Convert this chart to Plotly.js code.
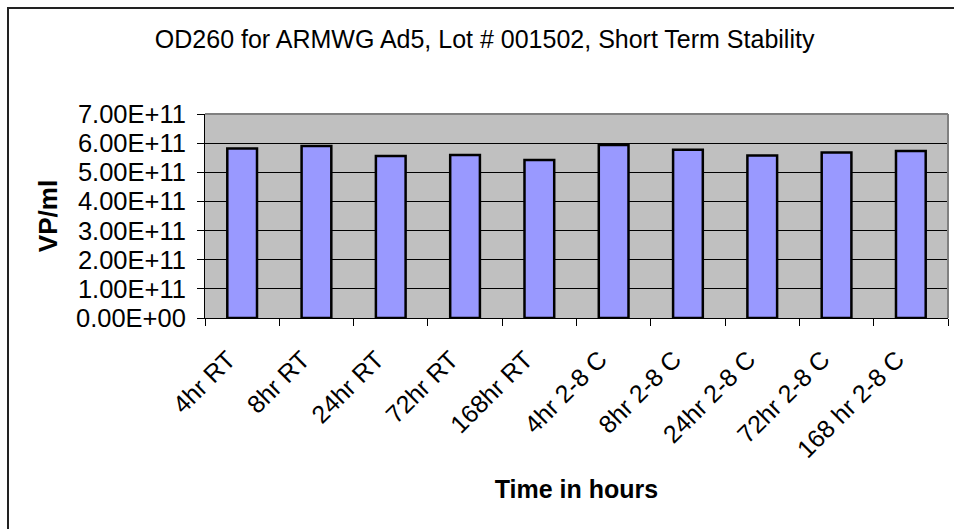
<!DOCTYPE html>
<html>
<head>
<meta charset="utf-8">
<script src="https://cdn.plot.ly/plotly-3.0.1.min.js"></script>
<style>
  html, body { margin: 0; padding: 0; background: #ffffff; }
  #wrap { position: relative; width: 954px; height: 529px; overflow: hidden; }
  #chart { position: absolute; left: 0; top: 0; width: 954px; height: 529px; }
  #frame { position: absolute; left: 7px; top: 7px; width: 1000px; height: 600px;
           border-left: 2px solid #222; border-top: 2px solid #222; pointer-events: none; }
</style>
</head>
<body>
<div id="wrap">
  <div id="chart"></div>
  <div id="frame"></div>
</div>
<script>
const categories = ["4hr RT", "8hr RT", "24hr RT", "72hr RT", "168hr RT",
                    "4hr 2-8 C", "8hr 2-8 C", "24hr 2-8 C", "72hr 2-8 C", "168 hr 2-8 C"];
const vpPerMl = [5.82e11, 5.90e11, 5.56e11, 5.59e11, 5.42e11,
                 5.94e11, 5.77e11, 5.58e11, 5.68e11, 5.73e11];
const yTickValues = [0, 1e11, 2e11, 3e11, 4e11, 5e11, 6e11, 7e11];
const yTickLabels = ["0.00E+00", "1.00E+11", "2.00E+11", "3.00E+11",
                     "4.00E+11", "5.00E+11", "6.00E+11", "7.00E+11"];

const font = "Liberation Sans, Arial, Helvetica, sans-serif";

const trace = {
  type: "bar",
  x: categories,
  y: vpPerMl,
  marker: { color: "#9999ff", line: { color: "#000000", width: 2.5 } },
  hoverinfo: "x+y"
};

const layout = {
  width: 954,
  height: 529,
  margin: { l: 205, r: 6, t: 114, b: 211 },
  paper_bgcolor: "#ffffff",
  plot_bgcolor: "#c0c0c0",
  showlegend: false,
  bargap: 0.6,
  font: { family: font, color: "#000000", size: 25 },
  title: {
    text: "OD260 for ARMWG Ad5, Lot # 001502, Short Term Stability",
    font: { family: font, size: 25, color: "#000000" },
    xref: "container", yref: "container",
    x: 0.508, xanchor: "center",
    y: 0.926, yanchor: "middle"
  },
  xaxis: {
    type: "category",
    tickangle: -45,
    tickson: "boundaries",
    ticks: "outside",
    ticklen: 7,
    tickcolor: "#000000",
    tickwidth: 1,
    ticklabelstandoff: 16,
    ticklabelshift: -14,
    showline: true,
    linecolor: "#000000",
    linewidth: 1,
    showgrid: false,
    zeroline: false,
    tickfont: { family: font, size: 25, color: "#000000" },
    title: {
      text: "<b>Time in hours</b>",
      font: { family: font, size: 25, color: "#000000" },
      standoff: 18
    }
  },
  yaxis: {
    range: [0, 7e11],
    tickvals: yTickValues,
    ticktext: yTickLabels,
    ticks: "outside",
    ticklen: 7,
    tickcolor: "#000000",
    tickwidth: 1,
    ticklabelstandoff: 6,
    showline: true,
    linecolor: "#000000",
    linewidth: 1,
    showgrid: true,
    gridcolor: "#000000",
    gridwidth: 1,
    zeroline: false,
    tickfont: { family: font, size: 25.5, color: "#000000" },
    title: {
      text: "<b>VP/ml</b>",
      font: { family: font, size: 26, color: "#000000" },
      standoff: 10
    }
  },
  shapes: [
    { type: "line", xref: "paper", yref: "paper", x0: 0, x1: 1, y0: 1, y1: 1,
      line: { color: "#808080", width: 2 }, layer: "above" },
    { type: "line", xref: "paper", yref: "paper", x0: 1, x1: 1, y0: 0, y1: 1,
      line: { color: "#808080", width: 2 }, layer: "above" }
  ]
};

Plotly.newPlot("chart", [trace], layout, { displayModeBar: false, staticPlot: true });
</script>
</body>
</html>
